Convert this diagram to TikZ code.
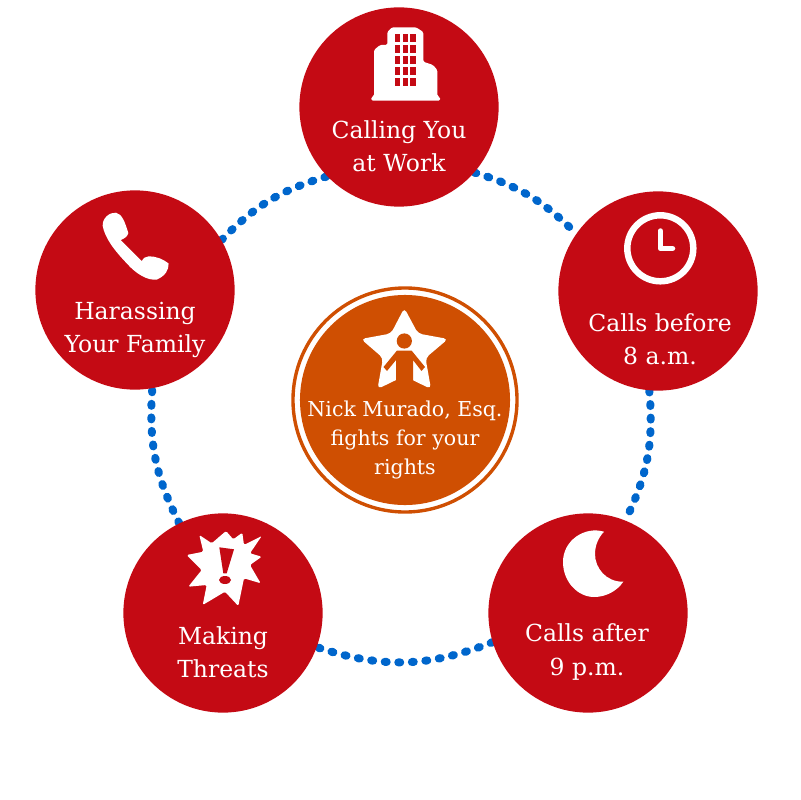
\documentclass[tikz,border=0pt]{standalone}
\usepackage{fontspec}
\setmainfont{DejaVu Serif}
\usetikzlibrary{backgrounds}
\definecolor{ballred}{HTML}{C40A14}
\definecolor{hubrange}{HTML}{CF4F02}
\definecolor{dotblue}{HTML}{0066CC}
\tikzset{
  ball/.style={draw=none,fill=ballred,circle,inner sep=0pt,minimum size=4.98cm},
  hub/.style={draw=none,fill=hubrange,circle,inner sep=0pt,minimum size=5.25cm},
  hubring/.style={draw=hubrange,circle,line width=2.4pt,inner sep=0pt,minimum size=5.6cm},
  balltext/.style={text=white,align=center,inner sep=0pt,font=\fontsize{16.7}{23.5}\selectfont},
  hubtext/.style={text=white,align=center,inner sep=0pt,font=\fontsize{14.6}{20.6}\selectfont},
  dotlink/.style={dotblue,line width=5.7pt,line cap=round,dash pattern=on 1.4pt off 8.25pt},
  icon/.style={fill=white,draw=none}
}
\begin{document}
\begin{tikzpicture}[x=0.025cm,y=-0.025cm]
\useasboundingbox (0,0) rectangle (800,800);
\node[ball] (work) at (399,107) {};
\node[ball] (before) at (658,291) {};
\node[ball] (after) at (588,613) {};
\node[ball] (threats) at (223,613) {};
\node[ball] (family) at (135,290) {};
\node[hubring] (ring) at (405,400) {};
\node[hub] (hub) at (405,400) {};
\begin{scope}[on background layer]
\draw[dotlink] (work.-41) to[bend left=14] (before.145);
\draw[dotlink] (before.-95) to[bend left=15.5] (after.68);
\draw[dotlink] (after.197) to[bend left=20] (threats.-20);
\draw[dotlink] (threats.116) to[bend left=15.5] (family.-80);
\draw[dotlink] (family.30) to[bend left=14.7] (work.224);
\end{scope}
% labels
\node[balltext] (worktext) at (399,146) {Calling You\\at Work};
\node[balltext] (beforetext) at (660,339) {Calls before\\8 a.m.};
\node[balltext] (aftertext) at (587,652) {Calls after\\9 p.m.};
\node[balltext] (threatstext) at (223,652) {Making\\Threats};
\node[balltext] (familytext) at (135,330) {Harassing\\Your Family};
\node[hubtext] (hubtextnode) at (405,440) {Nick Murado, Esq.\\fights for your\\rights};
% building
\fill[icon,rounded corners=1pt] (371.3,100.7) -- (371.3,97) -- (374,96) -- (374,50) -- (380,45) -- (387.3,45) -- (387.3,32) -- (392,27.3) -- (416,27.3) -- (423.3,32) -- (423.3,61.7) -- (433,65) -- (437.3,70) -- (437.3,96) -- (440,97) -- (440,100.7) -- cycle;
\foreach \wx in {394.7,402.5,410.3}
  \foreach \wy in {34,45,56,67.2,78.3}
    \fill[ballred] (\wx,\wy) rectangle +(5.2,7.8);
% clock
\draw[white,line width=4.6pt] (660.3,248.3) circle (33);
\draw[white,line width=3.9pt,line cap=round,line join=round] (660.3,231) -- (660.3,248.5) -- (672.5,248.5);
% moon
\fill[icon] (604,531.7) .. controls (585,526) and (563,540) .. (563,562) .. controls (563,582) and (578,597) .. (594,597) .. controls (606,597) and (617,591) .. (623.3,581.7) .. controls (606,582) and (595,568) .. (595,554) .. controls (595,546) and (598,538) .. (604,531.7) -- cycle;
% burst
\fill[icon,rounded corners=1pt] (199.3,535) -- (211.7,543.3) -- (226,531) -- (233.3,539.3) -- (242.3,532.7) -- (244,545) -- (261.7,536) -- (250,553.3) -- (261.7,556.7) -- (250,565) -- (260.7,583.3) -- (244,578.3) -- (238.3,606) -- (225,591.7) -- (202.7,605) -- (206.7,585) -- (188.3,586.7) -- (201.7,570) -- (186.7,555) -- (203.3,551.7) -- cycle;
\fill[ballred] (219.3,547.3) -- (234,549.3) -- (226.7,573.3) -- (223.3,573.3) -- cycle;
\fill[ballred] (225,580) ellipse (6 and 4);
% phone
\fill[icon] (102.7,226) .. controls (102,218) and (110,212) .. (116,212.7) .. controls (122,214) and (125,222) .. (128.3,233) .. controls (128,236) and (124,239) .. (120.7,240) -- (141.7,261) .. controls (143,258) and (145,257) .. (148,256.5) .. controls (156,256) and (163,259) .. (168.6,263.5) .. controls (169,270) and (165,276) .. (157,279.5) .. controls (148,281) and (136,274) .. (126.7,263.3) .. controls (114,250) and (105,238) .. (102.7,226) -- cycle;
% star and person
\fill[icon,rounded corners=3pt] (404.3,308) -- (418,333.5) -- (448,339) -- (425.5,358) -- (431,389) -- (404.3,376) -- (377.5,389) -- (383,358) -- (361,339) -- (391,333.5) -- cycle;
\fill[hubrange] (404.3,341) circle (7.6);
\fill[hubrange] (397,350.5) -- (411.5,350.5) -- (425,367) -- (421.5,371) -- (413,360) -- (413,392) -- (396,392) -- (396,360) -- (387,371) -- (383.5,367) -- cycle;
\end{tikzpicture}
\end{document}
